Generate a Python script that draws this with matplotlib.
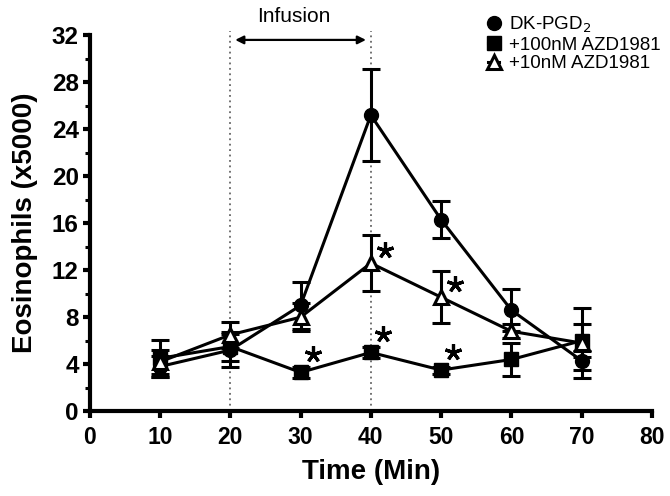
import matplotlib
matplotlib.use("Agg")
import matplotlib.pyplot as plt
from matplotlib.ticker import MultipleLocator
from matplotlib.transforms import offset_copy

plt.rcParams['font.family'] = ['Liberation Sans', 'DejaVu Sans']

# data
time = [10, 20, 30, 40, 50, 60, 70]
dk_mean = [3.8, 5.2, 9.0, 25.2, 16.3, 8.6, 4.3]
dk_err = [0.9, 1.4, 2.0, 3.9, 1.6, 1.8, 0.8]
azd100_mean = [4.5, 5.5, 3.3, 5.0, 3.5, 4.4, 6.0]
azd100_err = [1.6, 1.2, 0.5, 0.5, 0.3, 1.4, 1.4]
azd10_mean = [4.2, 6.5, 8.0, 12.6, 9.7, 6.8, 5.8]
azd10_err = [1.0, 1.1, 1.2, 2.4, 2.2, 0.6, 3.0]

labels = ['DK-PGD$_2$', '+100nM AZD1981', '+10nM AZD1981']

# time points marked significant
stars_sq = [30, 40, 50]
stars_tri = [40, 50]

fig = plt.figure(figsize=(6.7, 4.96), dpi=100)
ax = fig.add_axes([0.134, 0.171, 0.839, 0.758])

common = dict(color='black', lw=2.2, elinewidth=2.2, capsize=6.5, capthick=2.2, clip_on=False)
h1 = ax.errorbar(time, dk_mean, yerr=dk_err, marker='o', ms=10, mfc='black', mec='black', zorder=3, **common)
h2 = ax.errorbar(time, azd100_mean, yerr=azd100_err, marker='s', ms=10, mfc='black', mec='black', zorder=4, **common)
h3 = ax.errorbar(time, azd10_mean, yerr=azd10_err, marker='^', ms=10, mfc='white', mec='black', mew=2.2, zorder=5, **common)

# infusion period
for xv in [20, 40]:
    ax.axvline(xv, ymin=0, ymax=1.012, color='0.4', lw=1.3, ls=(0, (1, 2)), clip_on=False, zorder=1)
ax.annotate('', xy=(20.3, 31.6), xytext=(39.7, 31.6),
            arrowprops=dict(arrowstyle='<|-|>', color='black', lw=1.6, mutation_scale=12),
            annotation_clip=False)
ax.text(29, 33.6, 'Infusion', ha='center', va='center', fontsize=15, clip_on=False)

# significance stars, offset up-right from the point
star_tr = offset_copy(ax.transData, fig=fig, x=12, y=18, units='dots')
sq_idx = [time.index(t) for t in stars_sq]
tri_idx = [time.index(t) for t in stars_tri]
ax.plot(stars_sq, [azd100_mean[i] for i in sq_idx], ls='none', marker=(5, 2, 0), ms=12, mew=2.3,
        color='black', transform=star_tr, clip_on=False, zorder=6)
star_tr2 = offset_copy(ax.transData, fig=fig, x=14, y=13, units='dots')
ax.plot(stars_tri, [azd10_mean[i] for i in tri_idx], ls='none', marker=(5, 2, 0), ms=12, mew=2.3,
        color='black', transform=star_tr2, clip_on=False, zorder=6)

ax.set_xlim(0, 80)
ax.set_ylim(0, 32)
ax.xaxis.set_major_locator(MultipleLocator(10))
ax.yaxis.set_major_locator(MultipleLocator(4))
ax.yaxis.set_minor_locator(MultipleLocator(2))
for s in ['top', 'right']:
    ax.spines[s].set_visible(False)
for s in ['left', 'bottom']:
    ax.spines[s].set_linewidth(3)
ax.tick_params(which='major', direction='out', length=5, width=3, pad=3)
ax.tick_params(which='minor', direction='out', length=3.5, width=2.2)
ax.tick_params(axis='y', labelsize=17.5)
ax.tick_params(axis='x', labelsize=16.5, pad=6)
for lab in ax.get_xticklabels() + ax.get_yticklabels():
    lab.set_fontweight('bold')

ax.set_xlabel('Time (Min)', fontsize=20, fontweight='bold', labelpad=7)
ax.set_ylabel('Eosinophils (x5000)', fontsize=20, fontweight='bold', labelpad=10)

leg = fig.legend([h1[0], h2[0], h3[0]], labels, loc='upper left', bbox_to_anchor=(0.71, 0.995),
                 frameon=False, fontsize=13.5, handlelength=0.6, handletextpad=0.5,
                 labelspacing=0.08, borderaxespad=0.25)

fig.savefig('out.png', dpi=100)
